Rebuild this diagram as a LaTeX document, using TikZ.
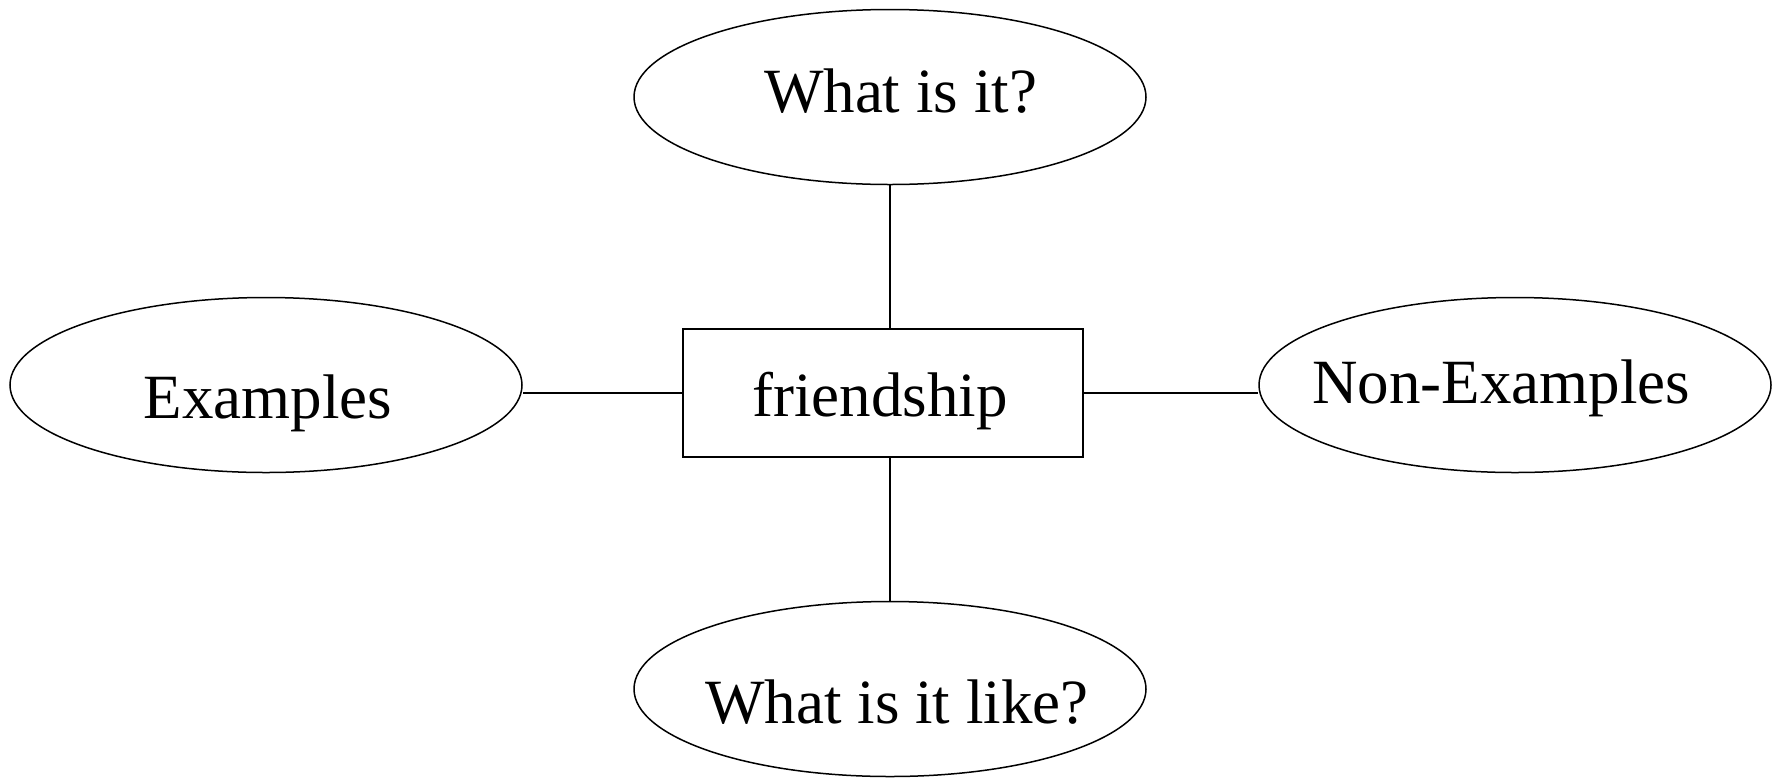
\documentclass[tikz,border=0pt]{standalone}
\usepackage{fontspec}
\setmainfont{Liberation Serif}
\usetikzlibrary{shapes.geometric}
\begin{document}
\begin{tikzpicture}[x=1pt,y=-1pt,
  oval/.style={draw,ellipse,line width=1.5pt,minimum width=512pt,minimum height=175pt,inner sep=0pt},
  box/.style={draw,rectangle,line width=1.8pt,minimum width=400pt,minimum height=127.5pt,inner sep=0pt},
  txt/.style={anchor=base,inner sep=0pt,font=\fontsize{63}{70}\selectfont},
  link/.style={line width=1.8pt}]
\useasboundingbox (0,0) rectangle (1782,777);
\node[oval] (top) at (890,97) {};
\node[oval] (left) at (266,385) {};
\node[oval] (right) at (1515,385) {};
\node[oval] (bot) at (890,689) {};
\node[box] (c) at (882.7,393) {};
\node[txt] (ttop) at (900.5,112.7) {What is it?};
\node[txt] (tleft) at (268,418) {Examples};
\node[txt] (tright) at (1501,403.5) {Non-Examples};
\node[txt] (tbot) at (897,723) {What is it like?};
\node[txt] (tc) at (880,416.7) {friendship};
\draw[link] (top.south) -- (top.south |- c.north);
\draw[link] (bot.north) -- (bot.north |- c.south);
\draw[link] (c.west) -- (c.west -| left.east);
\draw[link] (c.east) -- (c.east -| right.west);
\end{tikzpicture}
\end{document}
